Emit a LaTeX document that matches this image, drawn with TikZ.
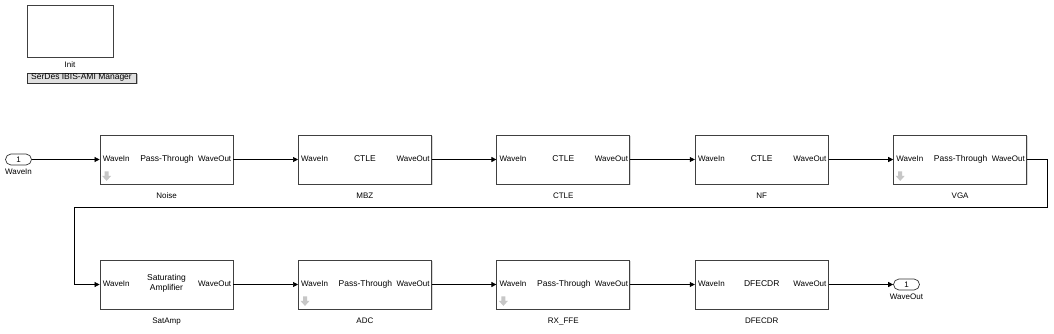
\documentclass[tikz,border=0pt]{standalone}
\usepackage{fontspec}
\setmainfont{Liberation Sans}
\usetikzlibrary{positioning,arrows.meta,shadows}

\tikzset{
  bloc/.style={draw=black!75, line width=0.8pt, fill=white, minimum width=133pt, minimum height=49pt, inner sep=0pt,
    drop shadow={shadow xshift=1.2pt, shadow yshift=-1.2pt, opacity=0.3}},
  port/.style={draw=black!80, line width=0.7pt, fill=white, rounded corners=5.5pt, minimum width=26pt, minimum height=11pt, inner sep=0pt, font=\fontsize{8}{9}\selectfont},
  txt/.style={inner sep=1pt, text height=6pt, text depth=1.8pt, font=\fontsize{8}{9.5}\selectfont},
  mil/.style={inner sep=1pt, font=\fontsize{8.5}{10}\selectfont, align=center},
  mil1/.style={mil, text height=6pt, text depth=1.8pt},
  fil/.style={-{Triangle[length=5pt,width=5pt]}, line width=0.7pt},
  icone/.style={fill=black!22},
  bouton/.style={draw=black!80, fill=black!12, line width=0.6pt, minimum width=109pt, minimum height=10pt, inner sep=0pt,
    font=\fontsize{8.5}{9}\selectfont, drop shadow={shadow xshift=1.5pt, shadow yshift=-1.5pt, opacity=0.5}},
}

\begin{document}
\begin{tikzpicture}[x=1pt,y=1pt]
  \useasboundingbox (0,0) rectangle (1054,333);

  % Bloc Init
  \node[bloc, minimum width=86pt, minimum height=52pt] (init) at (70,302) {};
  \node[txt, below=3pt of init] (initlab) {Init};
  \node[bouton, below=2pt of initlab, xshift=11.5pt] (manager) {SerDes IBIS-AMI Manager};

  % Premiere rangee
  \foreach \nom/\x/\dx/\milieu/\etiq in {noise/166.5/0.5/Pass-Through/Noise, mbz/364.9/0/CTLE/MBZ, ctle/563.3/0/CTLE/CTLE, nf/761.7/0/CTLE/NF, vga/960.1/0.5/Pass-Through/VGA}{
    \node[bloc] (\nom) at (\x,173.5) {};
    \node[txt, anchor=west] at ([xshift=2pt]\nom.west) {WaveIn};
    \node[txt, anchor=east] at ([xshift=-1pt]\nom.east) {WaveOut};
    \node[mil1] at ([xshift=\dx]\nom.center) {\milieu};
    \node[txt, below=7pt of \nom] {\etiq};
  }

  % Deuxieme rangee
  \foreach \nom/\x/\dx/\milieu/\etiq in {satamp/166.5/0//SatAmp, adc/364.9/0.5/Pass-Through/ADC, rxffe/563.3/0.5/Pass-Through/RX\_FFE, dfecdr/761.7/0/DFECDR/DFECDR}{
    \node[bloc] (\nom) at (\x,48.5) {};
    \node[txt, anchor=west] at ([xshift=2pt]\nom.west) {WaveIn};
    \node[txt, anchor=east] at ([xshift=-1pt]\nom.east) {WaveOut};
    \node[mil1] at ([xshift=\dx]\nom.center) {\milieu};
    \node[txt, below=7pt of \nom] {\etiq};
  }
  \node[mil] (satampmil) at ([yshift=1pt]satamp.center) {Saturating\\Amplifier};

  % Icones des blocs Pass-Through
  \foreach \nom in {noise, vga, adc, rxffe}{
    \fill[icone] ([shift={(5,13)}]\nom.south west) -- ++(4,0) -- ++(0,-4.5) -- ++(2.5,0) -- ++(-4.5,-5) -- ++(-4.5,5) -- ++(2.5,0) -- cycle;
  }

  % Ports
  \node[port] (entree) at (18.5,173.5) {1};
  \node[txt, below=2pt of entree] {WaveIn};
  \node[port] (sortie) at (906.5,48.5) {1};
  \node[txt, below=2pt of sortie] {WaveOut};

  % Liaisons
  \draw[fil] (entree) -- (noise);
  \draw[fil] (noise) -- (mbz);
  \draw[fil] (mbz) -- (ctle);
  \draw[fil] (ctle) -- (nf);
  \draw[fil] (nf) -- (vga);
  \coordinate (retourD) at (1047,126);
  \coordinate (retourG) at (74,126);
  \draw[fil] (vga.east) -| (retourD) -- (retourG) |- (satamp.west);
  \draw[fil] (satamp) -- (adc);
  \draw[fil] (adc) -- (rxffe);
  \draw[fil] (rxffe) -- (dfecdr);
  \draw[fil] (dfecdr) -- (sortie);
\end{tikzpicture}
\end{document}
